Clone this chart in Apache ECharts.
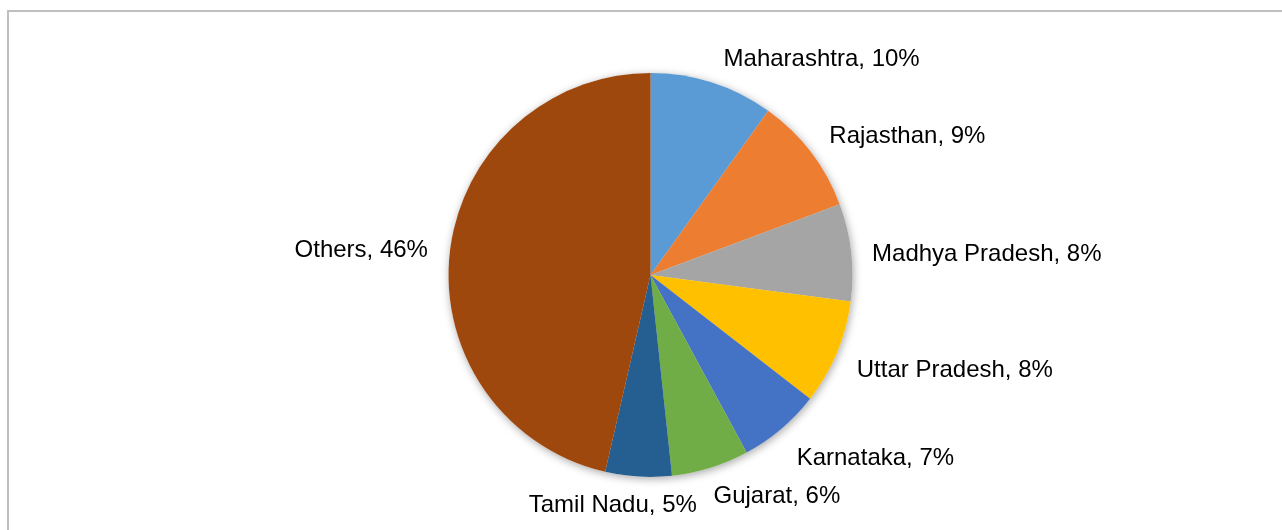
<!DOCTYPE html>
<html>
<head>
<meta charset="utf-8">
<script src="https://cdn.jsdelivr.net/npm/echarts@6/dist/echarts.min.js"></script>
<style>
html,body{margin:0;padding:0;background:#fff;}
#chart{width:1282px;height:530px;}
</style>
</head>
<body>
<div id="chart"></div>
<script>
// Data (shares in %)
const categories = ['Maharashtra', 'Rajasthan', 'Madhya Pradesh', 'Uttar Pradesh', 'Karnataka', 'Gujarat', 'Tamil Nadu', 'Others'];
const shares = [9.9, 9.4, 7.8, 8.4, 6.6, 6.2, 5.3, 46.4];
const colors = ['#5B9BD5', '#ED7D31', '#A5A5A5', '#FFC000', '#4472C4', '#70AD47', '#255E91', '#9E480E'];

// label fine-tuning (shift in px, per slice)
const labelShiftX = [3, -3, -6, -5, -2, -5, 60, 5];
const labelShiftY = [2, 1, 5, 7, 9, 3, 2, 1];

const total = shares.reduce((a, b) => a + b, 0);
const data = categories.map((c, i) => ({ name: c, value: shares[i] }));

const chart = echarts.init(document.getElementById('chart'), null, { renderer: 'canvas' });
chart.setOption({
  animation: false,
  backgroundColor: '#ffffff',
  color: colors,
  graphic: [{
    type: 'rect',
    shape: { x: 8, y: 11, width: 1400, height: 700 },
    style: { fill: 'none', stroke: '#bfbfbf', lineWidth: 2 },
    silent: true,
    z: -10
  }],
  series: [
    {
      // shadow underlay
      type: 'pie',
      silent: true,
      center: [650.5, 275],
      radius: 202,
      startAngle: 90,
      clockwise: true,
      z: 1,
      label: { show: false },
      labelLine: { show: false },
      itemStyle: {
        color: '#ffffff',
        shadowBlur: 9,
        shadowColor: 'rgba(0,0,0,0.35)',
        shadowOffsetX: 1,
        shadowOffsetY: 2
      },
      data: data
    },
    {
      type: 'pie',
      center: [650.5, 275],
      radius: 202,
      startAngle: 90,
      clockwise: true,
      z: 2,
      itemStyle: { borderWidth: 0 },
      label: {
        show: true,
        position: 'outside',
        fontFamily: 'Liberation Sans, Arial, sans-serif',
        fontSize: 24,
        color: '#000000',
        distanceToLabelLine: 0,
        formatter: p => p.name + ', ' + Math.round(p.value / total * 100) + '%'
      },
      labelLine: { show: false, length: 27, length2: 0 },
      labelLayout: function (params) {
        return {
          dx: labelShiftX[params.dataIndex] || 0,
          dy: labelShiftY[params.dataIndex] || 0
        };
      },
      data: data
    }
  ]
});
</script>
</body>
</html>
